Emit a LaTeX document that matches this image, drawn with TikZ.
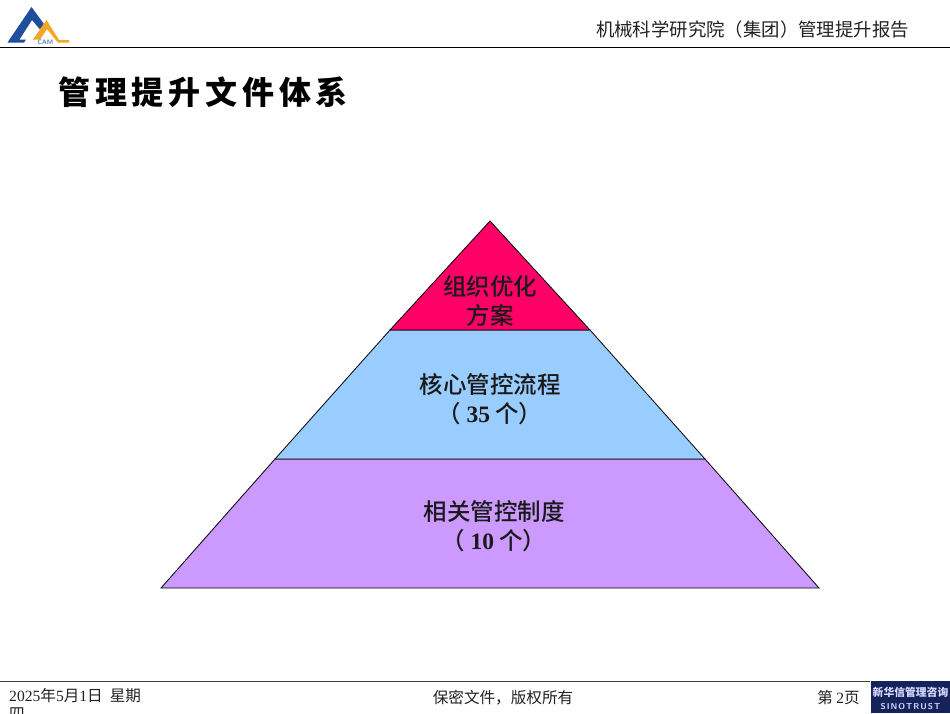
\documentclass[tikz,border=0pt]{standalone}
\usepackage{fontspec}
\setmainfont{Liberation Serif}
\newfontfamily\cjk{Noto Sans CJK SC}
\newfontfamily\cjkmed{Noto Sans CJK SC Medium}
\definecolor{pyrtop}{HTML}{FF0066}
\definecolor{pyrmid}{HTML}{99CCFF}
\definecolor{pyrlow}{HTML}{CC99FF}
\definecolor{logoblue}{HTML}{1F4E9C}
\definecolor{logoorange}{HTML}{F5A623}
\definecolor{sinonavy}{HTML}{14235A}
\definecolor{textgrey}{HTML}{222222}
\tikzset{
  tier/.style={draw=black,line width=0.8pt,line join=miter},
  tierlabel/.style={align=center,inner sep=0pt,font=\fontsize{23.5}{29}\selectfont\cjkmed,text=black!90},
  smalltext/.style={inner sep=0pt,text=textgrey,font=\fontsize{15.6}{16}\selectfont\cjk},
  headtext/.style={inner sep=0pt,text=textgrey,font=\fontsize{18.4}{20}\selectfont\cjk},
}
\begin{document}
\begin{tikzpicture}[x=1pt,y=-1pt]
\useasboundingbox[fill=white] (0,0) rectangle (950,713);
% pyramid
\coordinate (apex) at (490,221);
\coordinate (tl) at (390,330);
\coordinate (tr) at (590,330);
\coordinate (ml) at (275,459);
\coordinate (mr) at (705,459);
\coordinate (bl) at (161,588);
\coordinate (br) at (819,588);
\draw[tier,fill=pyrlow] (ml) -- (mr) -- (br) -- (bl) -- cycle;
\draw[tier,fill=pyrmid] (tl) -- (tr) -- (mr) -- (ml) -- cycle;
\draw[tier,fill=pyrtop] (apex) -- (tr) -- (tl) -- cycle;
\node[tierlabel] (toplabel) at (490,301.5) {组织优化\\方案};
\node[tierlabel] (midlabel) at (490,399.5) {核心管控流程\\（ {\rmfamily\bfseries 35} 个）};
\node[tierlabel] (lowlabel) at (494,526.5) {相关管控制度\\（ {\rmfamily\bfseries 10} 个）};
% title
\node[inner sep=0pt,anchor=west,font=\fontsize{32}{36}\selectfont\cjk\bfseries] (title) at (58,92)
 {管\kern4.8pt理\kern4.8pt提\kern4.8pt升\kern4.8pt文\kern4.8pt件\kern4.8pt体\kern4.8pt系};
% header
\coordinate (hl) at (0,47.5);
\coordinate (hr) at (950,47.5);
\draw[black,line width=0.9pt] (hl) -- (hr);
\node[headtext,anchor=east] (report) at (909,30) {机械科学研究院（集团）管理提升报告};
% logo
\fill[logoblue] (31.5,7) -- (7.5,42.5) -- (24,42.5) -- (26,39.5) -- (19.5,39.5) -- (32,20) -- (40,29.5) -- (44,24) -- cycle;
\fill[logoorange] (46.5,20) -- (33,39.5) -- (40,39.5) -- (47,29) -- (55,39) -- (58,42.5) -- (69,42.5) -- (69,40) -- (59,40) -- cycle;
\node[inner sep=0pt,text=logoblue!70,font=\fontsize{6.5}{7}\selectfont\sffamily\bfseries] (cam) at (45.5,42) {CAM};
% footer
\coordinate (fl) at (0,681);
\coordinate (fr) at (870,681);
\draw[black!75,line width=0.9pt] (fl) -- (fr);
\node[smalltext,anchor=west] (date) at (9,696) {{\rmfamily 2025}年{\rmfamily 5}月{\rmfamily 1}日\ \ 星期};
\node[smalltext,anchor=west] (dateb) at (9,713.5) {四};
\node[smalltext,anchor=center] (secret) at (503,698) {保密文件，版权所有};
\node[smalltext,anchor=east] (page) at (860,697.5) {第 {\rmfamily 2}页};
% sinotrust
\fill[sinonavy] (871,681) rectangle (950,713);
\node[inner sep=0pt,text=white!85!blue,font=\fontsize{10.8}{12}\selectfont\cjk\bfseries] (sino) at (910.5,692.5) {新华信管理咨询};
\node[inner sep=0pt,text=white!85!blue,font=\fontsize{8.5}{9}\selectfont\sffamily\bfseries] (sinoen) at (910.5,706.5) {S\kern1pt I\kern1pt N\kern1pt O\kern1pt T\kern1pt R\kern1pt U\kern1pt S\kern1pt T};
\end{tikzpicture}
\end{document}
